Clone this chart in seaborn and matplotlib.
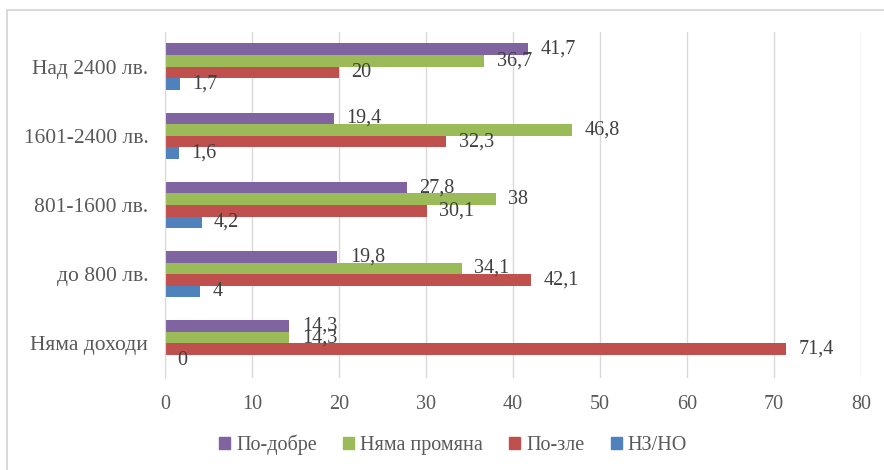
import pandas as pd
import matplotlib.pyplot as plt
import seaborn as sns
from matplotlib.patches import Rectangle

# data
groups = ['Над 2400 лв.', '1601-2400 лв.', '801-1600 лв.', 'до 800 лв.', 'Няма доходи']
series = ['По-добре', 'Няма промяна', 'По-зле', 'НЗ/НО']
po_dobre = [41.7, 19.4, 27.8, 19.8, 14.3]
nyama_promyana = [36.7, 46.8, 38, 34.1, 14.3]
po_zle = [20, 32.3, 30.1, 42.1, 71.4]
nz_no = [1.7, 1.6, 4.2, 4, 0]
colors = ['#8064A2', '#9BBB59', '#C0504D', '#4F81BD']

rows = []
for s, vals in zip(series, [po_dobre, nyama_promyana, po_zle, nz_no]):
    for g, v in zip(groups, vals):
        rows.append({'group': g, 'series': s, 'value': v})
df = pd.DataFrame(rows)

sns.set_style('white')
plt.rcParams['font.family'] = ['Liberation Serif', 'DejaVu Serif']
fs = 14.5

fig = plt.figure(figsize=(8.84, 4.70), dpi=100)
ax = fig.add_axes([165/884, 1-378/470, (861-165)/884, (378-32)/470])

sns.barplot(data=df, y='group', x='value', hue='series', orient='h',
            order=groups, hue_order=series, palette=colors, saturation=1,
            width=0.67, edgecolor='none', ax=ax, legend=False)

#Data labels with decimal comma
for cont in ax.containers:
    labs = [('%g' % b.get_width()).replace('.', ',') for b in cont]
    ax.bar_label(cont, labels=labs, padding=9, fontsize=fs, color='#404040')

ax.set_xlim(0, 80)
ax.set_ylim(4.5, -0.5)
ax.set_xticks(range(0, 81, 10))
ax.xaxis.grid(True, color='#D9D9D9', linewidth=1)
ax.set_axisbelow(True)
for sp in ['top', 'right', 'bottom']:
    ax.spines[sp].set_visible(False)
ax.spines['left'].set_color('#D9D9D9')
ax.tick_params(axis='both', length=0, labelsize=fs, labelcolor='#595959')
ax.tick_params(axis='x', pad=12)
ax.tick_params(axis='y', pad=12, labelsize=15.5)
ax.set_xlabel('')
ax.set_ylabel('')

handles = [Rectangle((0, 0), 1, 1, color=c) for c in colors]
fig.legend(handles, series, loc='center', bbox_to_anchor=(453/884, 1-445/470),
           ncol=4, frameon=False, fontsize=fs, handlelength=0.55, handleheight=0.55,
           handletextpad=0.3, columnspacing=1.3, labelcolor='#595959')

# chart border
fig.patches.append(Rectangle((7/884, -0.1), 1.1, 1-10/470+0.1, transform=fig.transFigure,
                             fill=False, edgecolor='#D9D9D9', linewidth=1.5))

plt.savefig('out.png', dpi=100)
